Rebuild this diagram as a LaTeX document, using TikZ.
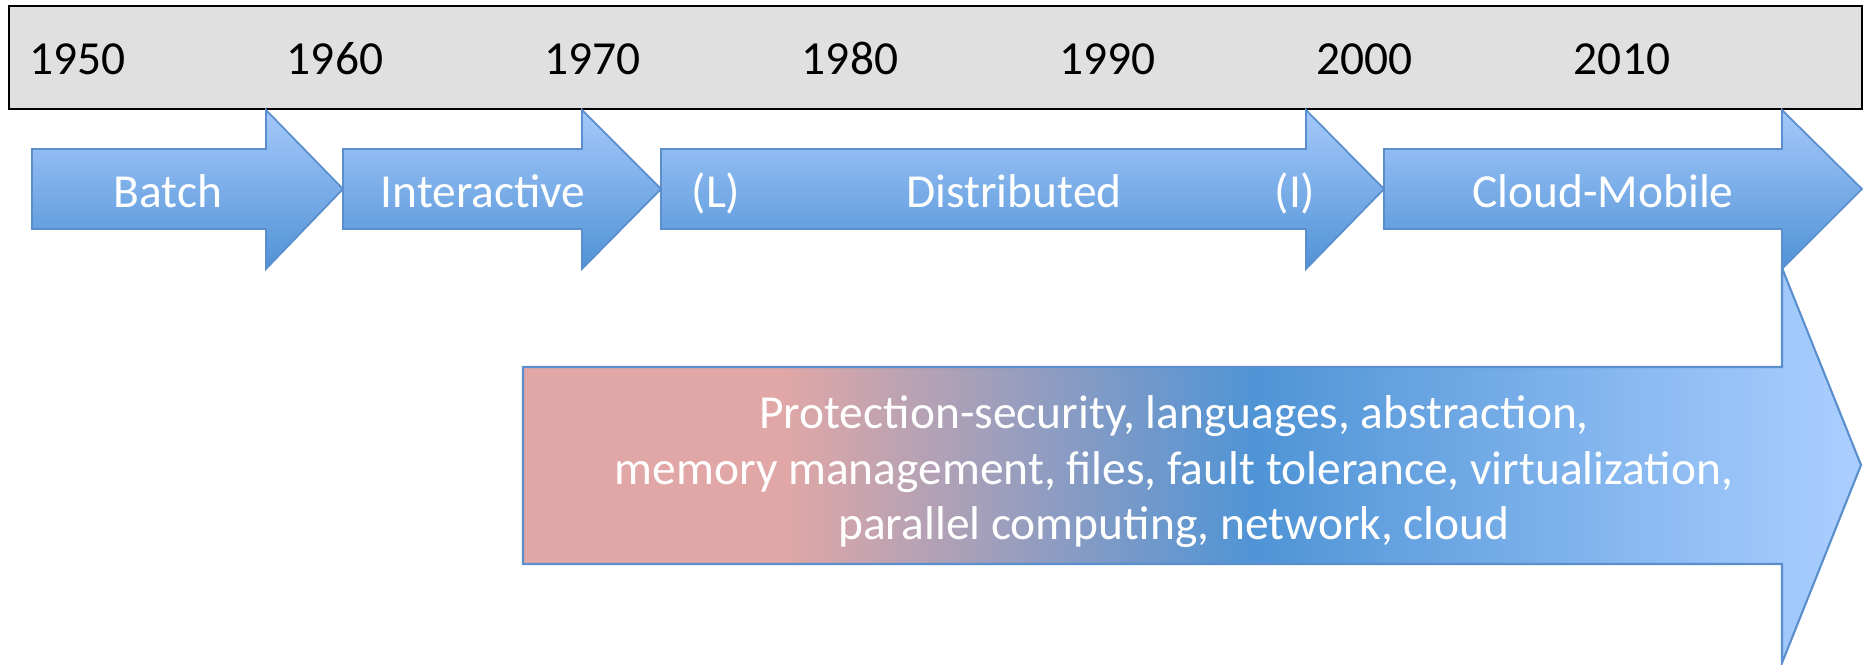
\documentclass[tikz,border=0pt]{standalone}
\usepackage{fontspec}
\setmainfont{Carlito}

\definecolor{barGray}{RGB}{224,224,224}
\definecolor{arrowTop}{RGB}{165,201,250}
\definecolor{arrowBot}{RGB}{80,146,214}
\definecolor{arrowLine}{RGB}{90,142,204}
\definecolor{topicPink}{RGB}{224,167,166}
\definecolor{topicBlue}{RGB}{79,148,214}
\definecolor{topicLight}{RGB}{168,205,254}

% pink -> blue -> light blue, stretched over the topics arrow
\pgfdeclarehorizontalshading{topics}{100bp}{color(0bp)=(topicPink); color(34.8bp)=(topicPink); color(52.4bp)=(topicBlue); color(74.2bp)=(topicLight); color(100bp)=(topicLight)}

\begin{document}
\begin{tikzpicture}
	\tikzstyle{Year} = [anchor=base, inner sep=0pt, text=black, font=\fontsize{13.5}{16}\selectfont]
	\tikzstyle{Phase} = [anchor=base, inner sep=0pt, text=white, font=\fontsize{13.5}{16}\selectfont]
	\tikzstyle{Stage} = [draw=arrowLine, line width=0.5pt, line join=miter, top color=arrowTop, bottom color=arrowBot]
	
	\useasboundingbox (0,0) rectangle (18.67,6.65);
	
	% time axis
	\draw [line width=0.6pt, black, fill=barGray] (0.09,5.56) rectangle (18.62,6.59);
	\node (y1950) [Year] at (0.775,5.90) {1950};
	\node (y1960) [Year] at (3.35,5.90) {1960};
	\node (y1970) [Year] at (5.925,5.90) {1970};
	\node (y1980) [Year] at (8.50,5.90) {1980};
	\node (y1990) [Year] at (11.075,5.90) {1990};
	\node (y2000) [Year] at (13.645,5.90) {2000};
	\node (y2010) [Year] at (16.22,5.90) {2010};
	
	% eras
	\draw [Stage] (0.32,5.16) -- (2.66,5.16) -- (2.66,5.55) -- (3.43,4.76) -- (2.66,3.96) -- (2.66,4.36) -- (0.32,4.36) -- cycle;
	\node (batch) [Phase] at (1.68,4.57) {Batch};
	
	\draw [Stage] (3.43,5.16) -- (5.82,5.16) -- (5.82,5.55) -- (6.61,4.76) -- (5.82,3.96) -- (5.82,4.36) -- (3.43,4.36) -- cycle;
	\node (inter) [Phase] at (4.83,4.57) {Interactive};
	
	\draw [Stage] (6.61,5.16) -- (13.06,5.16) -- (13.06,5.55) -- (13.84,4.76) -- (13.06,3.96) -- (13.06,4.36) -- (6.61,4.36) -- cycle;
	\node (distL) [Phase] at (7.16,4.57) {(L)};
	\node (dist) [Phase] at (10.14,4.57) {Distributed};
	\node (distI) [Phase] at (12.95,4.57) {(I)};
	
	\draw [Stage] (13.84,5.16) -- (17.82,5.16) -- (17.82,5.55) -- (18.62,4.76) -- (17.82,3.96) -- (17.82,4.36) -- (13.84,4.36) -- cycle;
	\node (cloud) [Phase] at (16.03,4.57) {Cloud-Mobile};
	
	% topics that carry across the eras
	\draw [draw=arrowLine, line width=0.6pt, line join=miter, shading=topics] (5.23,2.98) -- (17.82,2.98) -- (17.82,3.97) -- (18.61,2.00) -- (17.82,0.02) -- (17.82,1.01) -- (5.23,1.01) -- cycle;
	\node (topics) [Phase, align=center, font=\fontsize{13.5}{15.9}\selectfont] at (11.74,1.25) {Protection-security, languages, abstraction,\\memory management, files, fault tolerance, virtualization,\\parallel computing, network, cloud};
\end{tikzpicture}
\end{document}
